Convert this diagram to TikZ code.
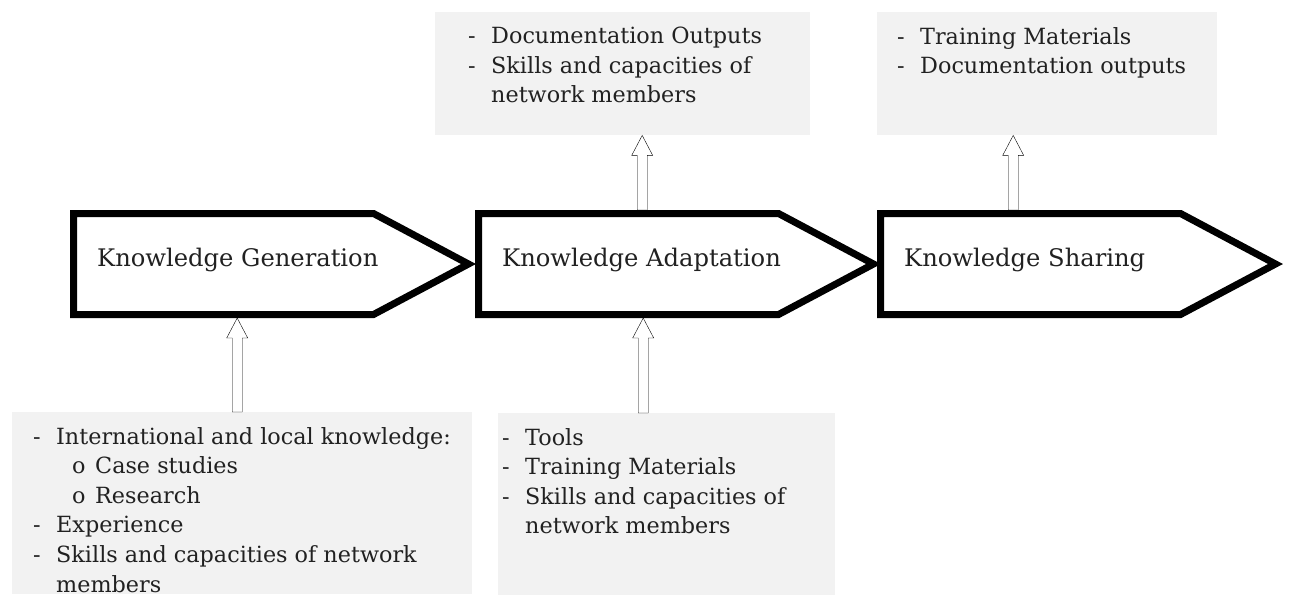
\documentclass[tikz,border=0pt]{standalone}
\usepackage{fontspec}
\setmainfont{DejaVu Serif}
\usetikzlibrary{shapes.symbols, calc}
\definecolor{boxgrey}{rgb}{0.949, 0.949, 0.949}
\definecolor{inkgrey}{rgb}{0.13, 0.13, 0.13}
\newcommand{\dashline}[1]{\par\hangindent=23pt\hangafter=1\noindent\makebox[23pt][l]{-}#1}
\newcommand{\subline}[1]{\par\noindent\hspace*{39pt}\makebox[23pt][l]{o}#1}
\tikzset{stage/.style={signal, signal to=east, signal pointer angle=56, draw=black, line width=7pt, fill=white, minimum height=101pt, minimum width=395pt, anchor=west, inner sep=0pt}}
\tikzset{stagelabel/.style={anchor=west, inner sep=0pt, xshift=27pt, yshift=4pt, font=\fontsize{24.2}{28}\selectfont, text=inkgrey}}
\tikzset{outbox/.style={fill=boxgrey, anchor=north west, inner ysep=15pt, font=\fontsize{22.3}{29.6}\selectfont, text=inkgrey}}
\tikzset{blockup/.style={draw=black, line width=1.6pt, fill=white, to path={let \p1=(\tikztostart), \p2=(\tikztotarget) in (\x1-5pt,\y1) -- (\x1-5pt,\y2-20pt) -- (\x1-10.5pt,\y2-20pt) -- (\x1,\y2) -- (\x1+10.5pt,\y2-20pt) -- (\x1+5pt,\y2-20pt) -- (\x1+5pt,\y1) -- cycle}}}

\begin{document}
\begin{tikzpicture}[x=1pt, y=-1pt]%{{{
        \useasboundingbox (0,0) rectangle (1291,595);

        \node[stage, label={[stagelabel]west:Knowledge Generation}] (gen) at (70, 264) {};
        \node[stage, label={[stagelabel]west:Knowledge Adaptation}] (adapt) at (475, 264) {};
        \node[stage, label={[stagelabel]west:Knowledge Sharing}] (share) at (877, 264) {};

        \node[outbox, inner xsep=21pt] (boxgen) at (12, 412)
        {\parbox[t][152pt][t]{418pt}{\raggedright
        \dashline{International and local knowledge:}
        \subline{Case studies}
        \subline{Research}
        \dashline{Experience}
        \dashline{Skills and capacities of network\newline members}}};
        \node[outbox, inner xsep=4pt] (boxadaptin) at (498, 413)
        {\parbox[t][152pt][t]{329pt}{\raggedright
        \dashline{Tools}
        \dashline{Training Materials}
        \dashline{Skills and capacities of\newline network members}}};
        \node[outbox, inner xsep=33pt] (boxadaptout) at (435, 12)
        {\parbox[t][93pt][t]{309pt}{\raggedright
        \dashline{Documentation Outputs}
        \dashline{Skills and capacities of\newline network members}}};
        \node[outbox, inner xsep=20pt] (boxshare) at (877, 12)
        {\parbox[t][93pt][t]{300pt}{\raggedright
        \dashline{Training Materials}
        \dashline{Documentation outputs}}};

        \coordinate (ingen) at ([xshift=-5pt]boxgen.north);
        \coordinate (inadapt) at ([xshift=-23.5pt]boxadaptin.north);
        \coordinate (outadapt) at ([xshift=19.5pt]boxadaptout.south);
        \coordinate (outshare) at ([xshift=-34pt]boxshare.south);

        \draw (ingen) to[blockup] (ingen |- gen.south);
        \draw (inadapt) to[blockup] (inadapt |- adapt.south);
        \draw (outadapt |- adapt.north) to[blockup] (outadapt);
        \draw (outshare |- share.north) to[blockup] (outshare);
    \end{tikzpicture}
\end{document}
